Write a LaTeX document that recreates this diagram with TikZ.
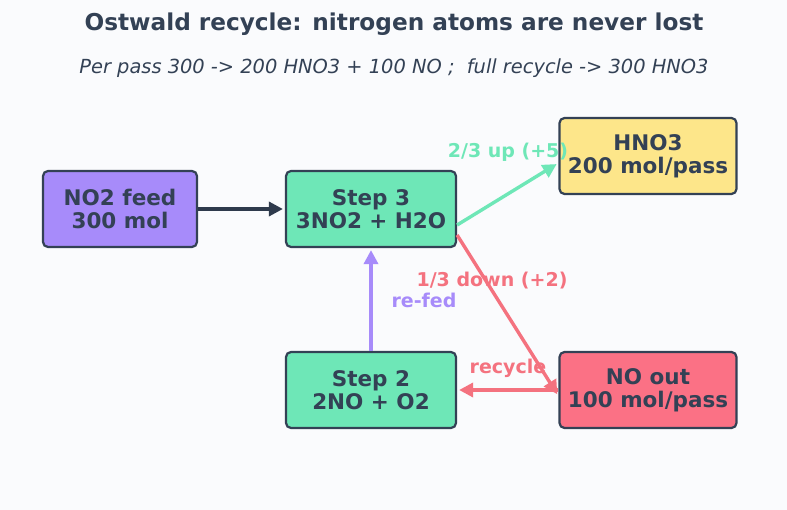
\documentclass[tikz,border=0pt]{standalone}
\usepackage{fontspec}
\setmainfont{DejaVu Sans}
\usetikzlibrary{arrows.meta}
\definecolor{bgcol}{HTML}{FAFBFD}
\definecolor{ink}{HTML}{334155}
\definecolor{feedcol}{HTML}{A78BFA}
\definecolor{stepcol}{HTML}{6EE7B7}
\definecolor{acidcol}{HTML}{FDE68A}
\definecolor{nocol}{HTML}{FB7185}
\definecolor{upcol}{HTML}{6EE7B7}
\definecolor{downcol}{HTML}{F4727F}

\begin{document}
\begin{tikzpicture}[x=1pt, y=-1pt,
    block/.style={rectangle, rounded corners=5pt, draw=ink, line width=2.2pt,
        minimum height=76pt, align=center, text=ink, font=\fontsize{21.5}{23}\selectfont\bfseries},
    flow/.style={line width=3.4pt, shorten >=2pt, -{Triangle[length=14pt, width=14pt]}},
    tag/.style={font=\fontsize{19}{21}\selectfont\bfseries}]

% background and frame of the page
\fill[bgcol] (0,0) rectangle (787,510);
\useasboundingbox (0,0) rectangle (787,510);

% title lines
\node[text=ink, font=\fontsize{23.2}{25}\selectfont\bfseries] (title) at (394,24) {Ostwald recycle: nitrogen atoms are never lost};
\node[text=ink, font=\fontsize{19.4}{21}\selectfont\itshape] (subtitle) at (394,68) {Per pass 300 -> 200 HNO3 + 100 NO ;\ \ full recycle -> 300 HNO3};

% the boxes
\node[block, fill=feedcol, minimum width=154pt] (feed) at (120,209) {NO2 feed\\300 mol};
\node[block, fill=stepcol, minimum width=170pt] (step3) at (371,209) {Step 3\\3NO2 + H2O};
\node[block, fill=acidcol, minimum width=177pt] (acid) at (648,156) {HNO3\\200 mol/pass};
\node[block, fill=stepcol, minimum width=170pt] (step2) at (371,390) {Step 2\\2NO + O2};
\node[block, fill=nocol, minimum width=177pt] (noout) at (648,390) {NO out\\100 mol/pass};

% and the arrows between them
\draw[flow, draw=ink!90!black] (feed) -- (step3);
\draw[flow, draw=upcol] ([yshift=-16pt]step3.east) -- ([yshift=-7pt]acid.west);
\draw[flow, draw=downcol] ([yshift=-26pt]step3.east) -- ([yshift=-6pt]noout.west);
\draw[flow, draw=downcol] (noout) -- (step2);
\draw[flow, draw=feedcol] (step2) -- (step3);

% arrow labels
\node[tag, text=upcol] (uplbl) at (508,152) {2/3 up (+5)};
\node[tag, text=downcol] (downlbl) at (492,281) {1/3 down (+2)};
\node[tag, text=downcol] (reclbl) at (508,368) {recycle};
\node[tag, text=feedcol] (fedlbl) at (424,300) {re-fed};
\end{tikzpicture}
\end{document}
